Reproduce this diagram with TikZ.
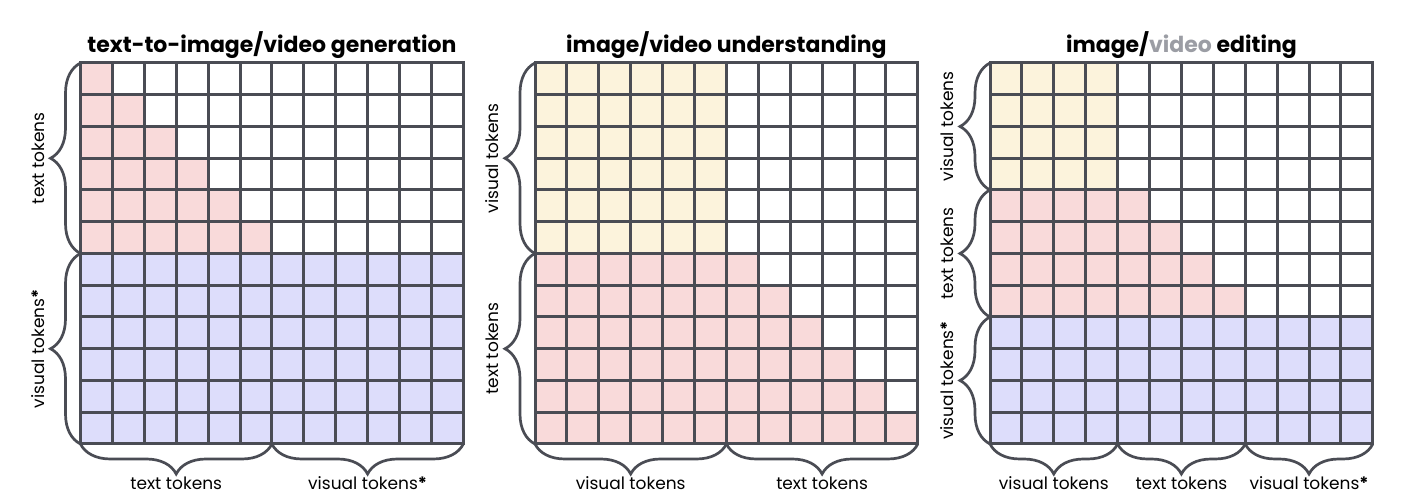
\documentclass[tikz,border=0pt]{standalone}
\usepackage{fontspec}
\setmainfont{Poppins}
\usetikzlibrary{decorations.pathreplacing}
\definecolor{gridc}{HTML}{4A4C54}
\definecolor{txtc}{HTML}{F9DADA}
\definecolor{visc}{HTML}{DDDDFB}
\definecolor{imgc}{HTML}{FCF3DC}
\definecolor{fadec}{HTML}{9B9DA4}

\begin{document}
\begin{tikzpicture}[
  x=1pt, y=1pt,
  ln/.style={draw=gridc, line width=3pt, line cap=rect},
  brc/.style={draw=gridc, line width=2.7pt, decorate, decoration={brace, amplitude=30pt}},
  lbl/.style={font=\fontsize{17}{19}\selectfont, inner sep=0pt},
  lblv/.style={lbl, rotate=90},
  ttl/.style={font=\fontsize{22}{25}\selectfont\bfseries, anchor=base, inner sep=0pt}
]
\useasboundingbox (0,0) rectangle (1404,502);

% text-to-image/video generation
\begin{scope}[shift={(80.5,439)}, x=31.9pt, y=31.75pt]
  \foreach \r in {0,...,5} \fill[txtc] (0,-\r-1) rectangle (\r+1,-\r);
  \fill[visc] (0,-12) rectangle (12,-6);
  \foreach \i in {0,...,12} {
    \draw[ln] (\i,0) -- (\i,-12);
    \draw[ln] (0,-\i) -- (12,-\i);
  }
  \coordinate (p1-nw) at (0,0);
  \coordinate (p1-r6) at (0,-6);
  \coordinate (p1-sw) at (0,-12);
  \coordinate (p1-c6) at (6,-12);
  \coordinate (p1-se) at (12,-12);
  \draw[brc] (p1-r6) -- (p1-nw);
  \draw[brc] (p1-sw) -- (p1-r6);
  \draw[brc] (p1-c6) -- (p1-sw);
  \draw[brc] (p1-se) -- (p1-c6);
  \node[ttl] (p1-ttl) at ([yshift=10pt]6,0) {text-to-image/video generation};
  \node[lblv] (p1-ltxt) at ([xshift=-42.5pt]0,-3) {text tokens};
  \node[lblv] (p1-lvis) at ([xshift=-42.5pt]0,-9) {visual tokens\textbf{*}};
  \node[lbl] (p1-btxt) at ([yshift=-39.5pt]3,-12) {text tokens};
  \node[lbl] (p1-bvis) at ([yshift=-39.5pt]9,-12) {visual tokens\textbf{*}};
\end{scope}

% image/video understanding
\begin{scope}[shift={(535,439)}, x=31.9pt, y=31.75pt]
  \fill[imgc] (0,-6) rectangle (6,0);
  \foreach \r in {6,...,11} \fill[txtc] (0,-\r-1) rectangle (\r+1,-\r);
  \foreach \i in {0,...,12} {
    \draw[ln] (\i,0) -- (\i,-12);
    \draw[ln] (0,-\i) -- (12,-\i);
  }
  \coordinate (p2-nw) at (0,0);
  \coordinate (p2-r6) at (0,-6);
  \coordinate (p2-sw) at (0,-12);
  \coordinate (p2-c6) at (6,-12);
  \coordinate (p2-se) at (12,-12);
  \draw[brc] (p2-r6) -- (p2-nw);
  \draw[brc] (p2-sw) -- (p2-r6);
  \draw[brc] (p2-c6) -- (p2-sw);
  \draw[brc] (p2-se) -- (p2-c6);
  \node[ttl] (p2-ttl) at ([yshift=10pt]6,0) {image/video understanding};
  \node[lblv] (p2-lvis) at ([xshift=-42.5pt]0,-3) {visual tokens};
  \node[lblv] (p2-ltxt) at ([xshift=-42.5pt]0,-9) {text tokens};
  \node[lbl] (p2-bvis) at ([yshift=-39.5pt]3,-12) {visual tokens};
  \node[lbl] (p2-btxt) at ([yshift=-39.5pt]9,-12) {text tokens};
\end{scope}

% image/video editing
\begin{scope}[shift={(990,439)}, x=31.9pt, y=31.75pt]
  \fill[imgc] (0,-4) rectangle (4,0);
  \foreach \r in {4,...,7} \fill[txtc] (0,-\r-1) rectangle (\r+1,-\r);
  \fill[visc] (0,-12) rectangle (12,-8);
  \foreach \i in {0,...,12} {
    \draw[ln] (\i,0) -- (\i,-12);
    \draw[ln] (0,-\i) -- (12,-\i);
  }
  \coordinate (p3-nw) at (0,0);
  \coordinate (p3-r4) at (0,-4);
  \coordinate (p3-r8) at (0,-8);
  \coordinate (p3-sw) at (0,-12);
  \coordinate (p3-c4) at (4,-12);
  \coordinate (p3-c8) at (8,-12);
  \coordinate (p3-se) at (12,-12);
  \draw[brc] (p3-r4) -- (p3-nw);
  \draw[brc] (p3-r8) -- (p3-r4);
  \draw[brc] (p3-sw) -- (p3-r8);
  \draw[brc] (p3-c4) -- (p3-sw);
  \draw[brc] (p3-c8) -- (p3-c4);
  \draw[brc] (p3-se) -- (p3-c8);
  \node[ttl] (p3-ttl) at ([yshift=10pt]6,0) {image/{\color{fadec}video} editing};
  \node[lblv] (p3-lvis) at ([xshift=-42.5pt]0,-2) {visual tokens};
  \node[lblv] (p3-ltxt) at ([xshift=-42.5pt]0,-6) {text tokens};
  \node[lblv] (p3-lvis2) at ([xshift=-42.5pt]0,-10) {visual tokens\textbf{*}};
  \node[lbl] (p3-bvis) at ([yshift=-39.5pt]2,-12) {visual tokens};
  \node[lbl] (p3-btxt) at ([yshift=-39.5pt]6,-12) {text tokens};
  \node[lbl] (p3-bvis2) at ([yshift=-39.5pt]10,-12) {visual tokens\textbf{*}};
\end{scope}
\end{tikzpicture}
\end{document}
